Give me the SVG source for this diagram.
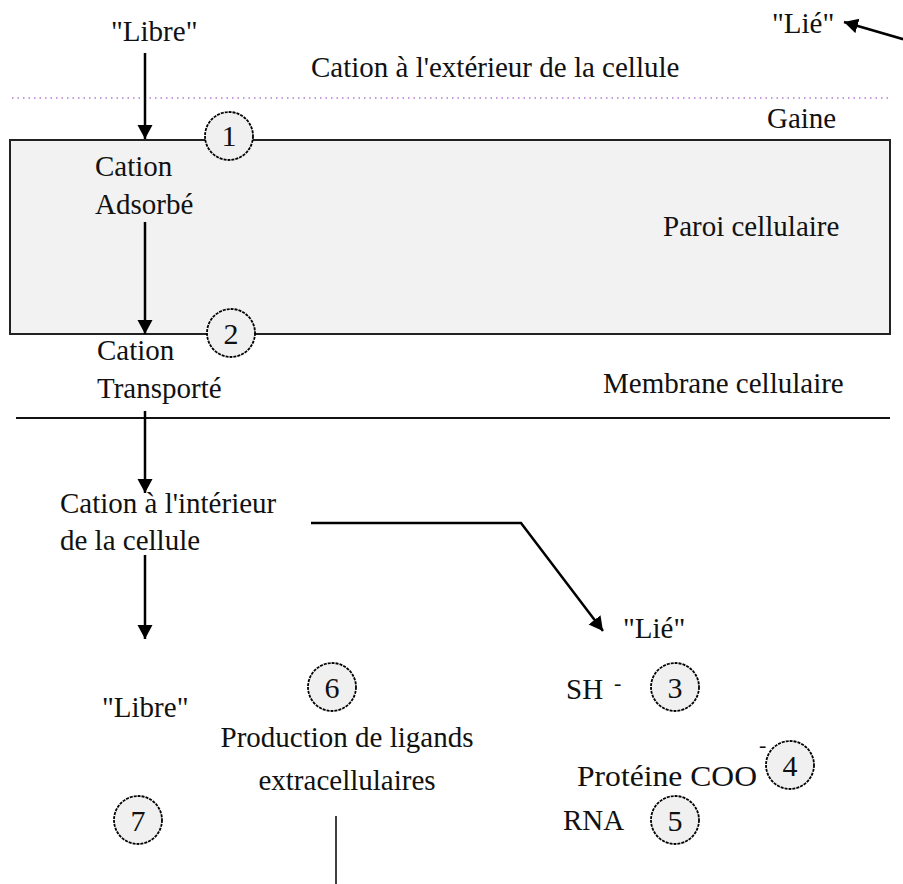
<svg xmlns="http://www.w3.org/2000/svg" width="903" height="884" viewBox="0 0 903 884">
  <defs>
    <style>
      text { font-size: 29px; fill: #111; }
      .num { text-anchor: middle; font-size: 30px; }
      .sup { font-size: 22px; }
      .conn { stroke: #000; stroke-width: 2.5; fill: none; }
      .thin { stroke: #000; stroke-width: 1.5; fill: none; }
      .badge { fill: #f0f0f0; stroke: #000; stroke-width: 1.8; stroke-dasharray: 3 1; }
    </style>
    <marker id="arr" markerUnits="userSpaceOnUse" markerWidth="16" markerHeight="16" refX="14" refY="8" orient="auto">
      <path d="M0,0.5 L14,8 L0,15.5 z" fill="#000"/>
    </marker>
  </defs>

  <rect width="903" height="884" fill="#fff"/>

  <!-- Zones -->
  <g id="zones">
    <line x1="12" y1="98" x2="888" y2="98" stroke="#b57ad6" stroke-width="1.5" stroke-dasharray="1.5 4"/>
    <rect id="paroi" x="10" y="140" width="880" height="194" fill="#f2f2f2" stroke="#222" stroke-width="2"/>
    <line x1="16" y1="418" x2="890" y2="418" stroke="#111" stroke-width="2"/>
  </g>

  <!-- Connectors -->
  <g id="connectors">
    <line class="conn" x1="145" y1="53" x2="145" y2="139" marker-end="url(#arr)"/>
    <line class="conn" x1="145" y1="222" x2="145" y2="334" marker-end="url(#arr)"/>
    <line class="conn" x1="145" y1="411" x2="145" y2="493" marker-end="url(#arr)"/>
    <line class="conn" x1="145" y1="555" x2="145" y2="639" marker-end="url(#arr)"/>
    <path class="conn" d="M311,523 L521,523 L603,631" marker-end="url(#arr)"/>
    <line class="conn" x1="906" y1="40" x2="844" y2="22" marker-end="url(#arr)"/>
    <line class="thin" x1="336" y1="816" x2="336" y2="884"/>
  </g>

  <g font-family="Liberation Serif">
  <!-- Labels -->
  <g id="libre-top"><text x="111" y="41">"Libre"</text></g>
  <g id="lie-top"><text x="772" y="33">"Lié"</text></g>
  <g id="cation-ext"><text x="311" y="77">Cation à l'extérieur de la cellule</text></g>
  <g id="gaine"><text x="767" y="128">Gaine</text></g>
  <g id="cation-adsorbe"><text x="95" y="176">Cation</text><text x="95" y="214">Adsorbé</text></g>
  <g id="paroi-label"><text x="663" y="236">Paroi cellulaire</text></g>
  <g id="cation-transporte"><text x="97" y="360">Cation</text><text x="97" y="398">Transporté</text></g>
  <g id="membrane"><text x="603" y="393">Membrane cellulaire</text></g>
  <g id="cation-int"><text x="60" y="513">Cation à l'intérieur</text><text x="60" y="550">de la cellule</text></g>
  <g id="lie-bottom"><text x="623" y="638">"Lié"</text></g>
  <g id="libre-bottom"><text x="102" y="717">"Libre"</text></g>
  <g id="production"><text x="347" y="747" text-anchor="middle">Production de ligands</text><text x="347" y="790" text-anchor="middle">extracellulaires</text></g>
  <g id="sh"><text x="566" y="699">SH</text><text class="sup" x="614" y="690">-</text></g>
  <g id="proteine"><text x="577" y="786" textLength="180" lengthAdjust="spacingAndGlyphs">Protéine COO</text><text class="sup" x="759" y="752">-</text></g>
  <g id="rna"><text x="563" y="830">RNA</text></g>

  <!-- Numbered badges -->
  <g id="badge1"><circle class="badge" cx="229" cy="136" r="24"/><text class="num" x="229" y="146">1</text></g>
  <g id="badge2"><circle class="badge" cx="231" cy="333" r="24"/><text class="num" x="231" y="344">2</text></g>
  <g id="badge3"><circle class="badge" cx="675" cy="687" r="24"/><text class="num" x="675" y="698">3</text></g>
  <g id="badge4"><circle class="badge" cx="790" cy="765" r="24"/><text class="num" x="790" y="776">4</text></g>
  <g id="badge5"><circle class="badge" cx="675" cy="820" r="24"/><text class="num" x="675" y="831">5</text></g>
  <g id="badge6"><circle class="badge" cx="332" cy="687" r="24"/><text class="num" x="332" y="698">6</text></g>
  <g id="badge7"><circle class="badge" cx="138" cy="820" r="24"/><text class="num" x="138" y="831">7</text></g>
  </g>
</svg>
